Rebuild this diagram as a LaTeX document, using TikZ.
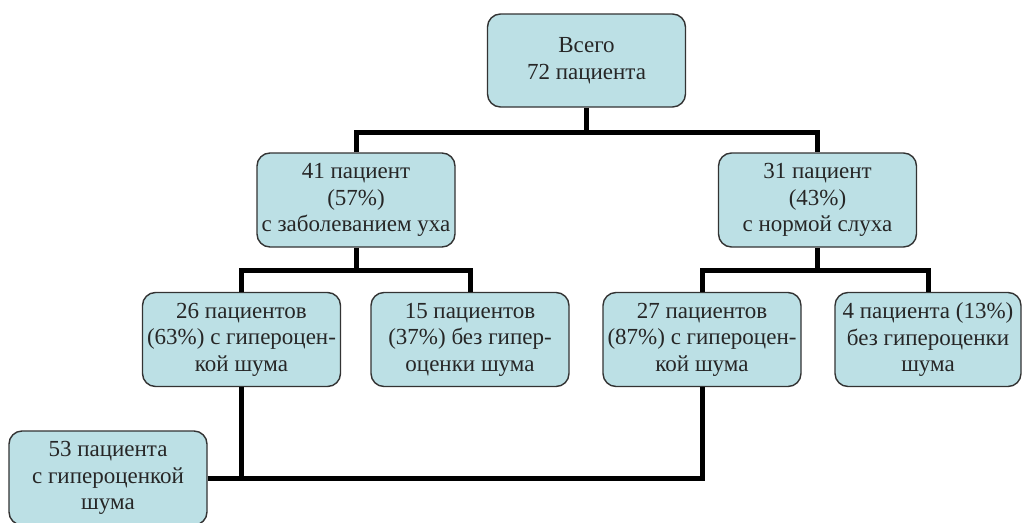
\documentclass[tikz,border=0pt]{standalone}
\usepackage{fontspec}
\setmainfont{Liberation Serif}
\begin{document}
\begin{tikzpicture}[x=1pt,y=-1pt,
  box/.style={draw=black!80, line width=1.4pt, fill=boxfill, rounded corners=13pt,
    minimum width=198pt, minimum height=94pt, inner sep=0pt, align=center,
    font=\fontsize{23}{26.5}\selectfont, text=black!85},
  conn/.style={line width=5pt, black}]
\definecolor{boxfill}{RGB}{188,224,229}
\useasboundingbox (0,0) rectangle (1022,522);
\node[box, minimum height=93pt] (top) at (586.5,60.5) {Всего\\72 пациента};
\node[box] (b41) at (356,200) {41 пациент\\(57\%)\\с заболеванием уха};
\node[box] (b31) at (817.5,200) {31 пациент\\(43\%)\\с нормой слуха};
\node[box] (b26) at (241.5,339.5) {26 пациентов\\(63\%) с гипероцен-\\кой шума};
\node[box] (b15) at (470,339.5) {15 пациентов\\(37\%) без гипер-\\оценки шума};
\node[box] (b27) at (702,339.5) {27 пациентов\\(87\%) с гипероцен-\\кой шума};
\node[box, minimum width=186pt] (b4) at (928,339.5) {4 пациента (13\%)\\без гипероценки\\шума};
\node[box] (b53) at (108,478) {53 пациента\\с гипероценкой\\шума};
\coordinate (j1) at (586.5,132);
\coordinate (j2) at (356,270);
\coordinate (j3) at (817.5,270);
\coordinate (j4) at (241.5,478);
\draw[conn] (top.south) -- (j1);
\draw[conn] (b41.north) |- (j1) -| (b31.north);
\draw[conn] (b41.south) -- (j2);
\draw[conn] (b26.north) |- (j2) -| (b15.north);
\draw[conn] (b31.south) -- (j3);
\draw[conn] (b27.north) |- (j3) -| (b4.north);
\draw[conn] (b53.east) -- (j4);
\draw[conn] (b26.south) -- (j4) -| (b27.south);
\end{tikzpicture}
\end{document}
